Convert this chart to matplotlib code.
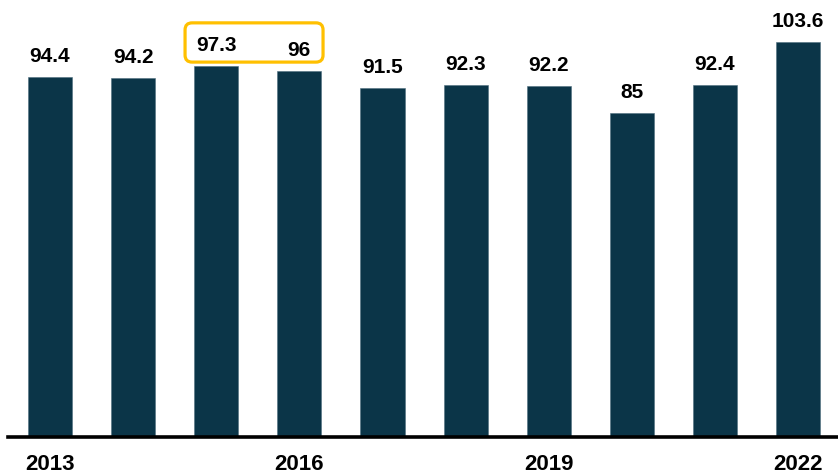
import matplotlib.pyplot as plt
import matplotlib.transforms as mtransforms
from matplotlib.patches import FancyBboxPatch

plt.rcParams['font.family'] = ['Liberation Sans', 'DejaVu Sans']

years = [2013, 2014, 2015, 2016, 2017, 2018, 2019, 2020, 2021, 2022]
values = [94.4, 94.2, 97.3, 96, 91.5, 92.3, 92.2, 85, 92.4, 103.6]
labels = ['94.4', '94.2', '97.3', '96', '91.5', '92.3', '92.2', '85', '92.4', '103.6']
shown_years = [2013, 2016, 2019, 2022]

bar_color = '#0b3548'
box_color = '#ffc000'

W, H = 838, 475
fig = plt.figure(figsize=(W / 100, H / 100), dpi=100)
ax = fig.add_axes([8 / W, 38 / H, 830 / W, 437 / H])

x = list(range(len(years)))
ax.bar(x, values, width=0.53, color=bar_color, edgecolor='#4f6f7f', linewidth=0.4)

ax.set_xlim(-0.505, 9.48)
ax.set_ylim(0, 114.7)

# value labels above each bar
for xi, v, lab in zip(x, values, labels):
    ax.annotate(lab, (xi, v), xytext=(0, 10.8), textcoords='offset points',
                ha='center', va='baseline', fontsize=15, fontweight='bold',
                color='black')

# year labels under the baseline, only every third year
trans = mtransforms.blended_transform_factory(ax.transData, fig.transFigure)
for xi, yr in zip(x, years):
    if yr in shown_years:
        ax.text(xi, 0.5 / H, str(yr), transform=trans, ha='center', va='bottom',
                fontsize=16, fontweight='bold', color='black')

# highlight box around 2015-2016 labels
px_x = 1 / 83.1
px_y = 1 / 3.81
box = FancyBboxPatch((1.625, 98.4), 3.285 - 1.625, 108.7 - 98.4,
                     boxstyle='round,pad=0,rounding_size=0.085',
                     mutation_aspect=px_y / px_x,
                     facecolor='none', edgecolor=box_color, linewidth=2.3,
                     clip_on=False)
ax.add_patch(box)

for side in ['top', 'right', 'left']:
    ax.spines[side].set_visible(False)
ax.spines['bottom'].set_linewidth(2.6)
ax.spines['bottom'].set_color('black')
ax.set_xticks([])
ax.set_yticks([])

fig.savefig('out.png', dpi=100)
